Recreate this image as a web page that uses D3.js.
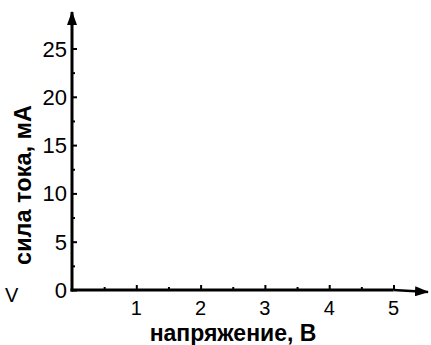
<!DOCTYPE html>
<html>
<head>
<meta charset="utf-8">
<script src="https://cdn.jsdelivr.net/npm/d3@7"></script>
<style>
  body { margin: 0; background: #fff; }
  svg { display: block; font-family: "Liberation Sans", Arial, sans-serif; }
</style>
</head>
<body>
<div id="chart"></div>
<script>
// axis data
const xTicks = [1, 2, 3, 4, 5];
const yTicks = [0, 5, 10, 15, 20, 25];
const xDomain = [0, 5];
const yDomain = [0, 25];
const xTitle = 'напряжение, В';
const yTitle = 'сила тока, мА';
const cornerLabel = 'V';

const width = 431, height = 345;
const x0 = 72, y0 = 290;

const svg = d3.select('#chart').append('svg')
  .attr('width', width)
  .attr('height', height);

const x = d3.scaleLinear().domain(xDomain).range([x0, 393.5]);
const y = d3.scaleLinear().domain(yDomain).range([y0, 48.5]);

// arrow marker
svg.append('defs').append('marker')
  .attr('id', 'arrow')
  .attr('viewBox', '0 0 14 10')
  .attr('refX', 13).attr('refY', 5)
  .attr('markerUnits', 'userSpaceOnUse')
  .attr('markerWidth', 14).attr('markerHeight', 10)
  .attr('orient', 'auto')
  .append('path')
  .attr('d', 'M0,0 L14,5 L0,10 Z')
  .attr('fill', '#000');

// y axis, ticks pointing into the plot (minor at halves)
const yAxis = d3.axisRight(y)
  .tickValues(d3.range(0, 27.5, 2.5))
  .tickSize(4)
  .tickFormat('');
const gy = svg.append('g').attr('transform', `translate(${x0},0)`).call(yAxis);
gy.select('.domain').remove();
gy.selectAll('.tick line')
  .attr('stroke-width', 2)
  .attr('x2', d => d % 5 === 0 ? 5 : 3);

const xAxis = d3.axisTop(x)
  .tickValues(d3.range(0.5, 5.5, 0.5))
  .tickSize(4)
  .tickFormat('');
const gx = svg.append('g').attr('transform', `translate(0,${y0})`).call(xAxis);
gx.select('.domain').remove();
gx.selectAll('.tick line')
  .attr('stroke-width', 2)
  .attr('y2', d => d % 1 === 0 ? -5 : -3);

// axis lines with arrows
svg.append('line')
  .attr('x1', x0).attr('y1', y0 + 1.5)
  .attr('x2', x0).attr('y2', 12)
  .attr('stroke', '#000').attr('stroke-width', 3)
  .attr('marker-end', 'url(#arrow)');
svg.append('line')
  .attr('x1', x0 - 1.5).attr('y1', y0)
  .attr('x2', x(5)).attr('y2', y0)
  .attr('stroke', '#000').attr('stroke-width', 3);
svg.append('line')
  .attr('x1', x(5)).attr('y1', y0)
  .attr('x2', 428).attr('y2', y0 + 2)
  .attr('stroke', '#000').attr('stroke-width', 2.5)
  .attr('marker-end', 'url(#arrow)');

// tick labels
svg.selectAll('.ylab').data(yTicks).join('text')
  .attr('class', 'ylab')
  .attr('x', 67).attr('y', d => y(d) + 8)
  .attr('text-anchor', 'end')
  .attr('font-size', 22)
  .text(d => d);

svg.selectAll('.xlab').data(xTicks).join('text')
  .attr('class', 'xlab')
  .attr('x', d => x(d)).attr('y', 315)
  .attr('text-anchor', 'middle')
  .attr('font-size', 20)
  .text(d => d);

svg.append('text')
  .attr('x', 5).attr('y', 302)
  .attr('font-size', 20)
  .text(cornerLabel);

// axis titles
svg.append('text')
  .attr('x', 233).attr('y', 341)
  .attr('text-anchor', 'middle')
  .attr('font-size', 23)
  .attr('font-weight', 'bold')
  .text(xTitle);

svg.append('text')
  .attr('transform', 'translate(31,185) rotate(-90)')
  .attr('text-anchor', 'middle')
  .attr('font-size', 23.5)
  .attr('font-weight', 'bold')
  .text(yTitle);
</script>
</body>
</html>
